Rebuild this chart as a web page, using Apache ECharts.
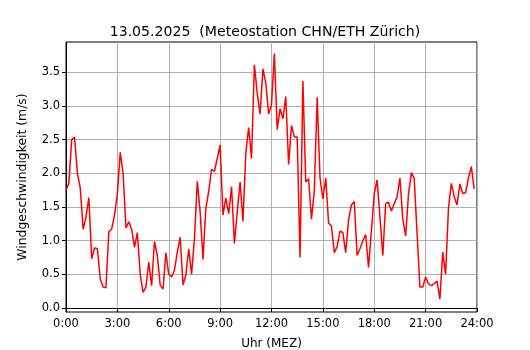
<!DOCTYPE html>
<html>
<head>
<meta charset="utf-8">
<script src="https://cdn.jsdelivr.net/npm/echarts@6/dist/echarts.min.js"></script>
<style>
  html, body { margin: 0; padding: 0; background: #fff; }
  #chart { width: 530px; height: 350px; }
</style>
</head>
<body>
<div id="chart"></div>
<script>
// Windgeschwindigkeit in m/s, 10-Minuten-Werte ab 0:00
var speeds = [
    1.75, 1.85, 2.50, 2.54, 2.00, 1.78, 1.17, 1.35, 1.64, 0.73, 0.89, 0.88,
    0.43, 0.31, 0.30, 1.13, 1.17, 1.38, 1.69, 2.31, 2.00, 1.19, 1.28, 1.17,
    0.90, 1.12, 0.50, 0.23, 0.31, 0.68, 0.33, 0.99, 0.78, 0.34, 0.28, 0.82,
    0.50, 0.46, 0.56, 0.83, 1.05, 0.34, 0.49, 0.88, 0.50, 1.03, 1.88, 1.43,
    0.72, 1.48, 1.73, 2.06, 2.03, 2.22, 2.42, 1.38, 1.63, 1.40, 1.80, 0.96,
    1.43, 1.87, 1.29, 2.30, 2.68, 2.22, 3.61, 3.19, 2.88, 3.55, 3.34, 2.88,
    3.02, 3.78, 2.65, 2.96, 2.81, 3.14, 2.13, 2.71, 2.54, 2.54, 0.75, 3.37,
    1.87, 1.92, 1.32, 1.74, 3.13, 1.93, 1.62, 1.93, 1.26, 1.22, 0.82, 0.91,
    1.14, 1.12, 0.82, 1.31, 1.53, 1.58, 0.78, 0.88, 1.00, 1.09, 0.60, 1.14,
    1.70, 1.90, 1.35, 0.78, 1.55, 1.57, 1.44, 1.55, 1.65, 1.93, 1.32, 1.07,
    1.69, 2.01, 1.92, 1.11, 0.31, 0.31, 0.46, 0.36, 0.33, 0.36, 0.40, 0.13,
    0.83, 0.50, 1.48, 1.85, 1.65, 1.53, 1.84, 1.70, 1.71, 1.93, 2.10, 1.77
];
var stepMinutes = 10;
var yTicks = [0, 0.5, 1.0, 1.5, 2.0, 2.5, 3.0, 3.5];

var points = speeds.map(function (v, i) { return [i * stepMinutes, v]; });

var font = 'DejaVu Sans';
var chart = echarts.init(document.getElementById('chart'), null, { renderer: 'canvas' });
chart.setOption({
    backgroundColor: '#fff',
    animation: false,
    title: {
        text: '13.05.2025  (Meteostation CHN/ETH Zürich)',
        left: 'center',
        top: 20,
        textStyle: { fontFamily: font, fontSize: 14.1, fontWeight: 'normal', color: '#000' }
    },
    grid: {
        left: 66, right: 53, top: 42, bottom: 38,
        outerBoundsMode: 'none',
        show: true, borderColor: '#000', borderWidth: 1, backgroundColor: 'transparent'
    },
    xAxis: {
        type: 'value',
        min: 0, max: 1440, interval: 180,
        name: 'Uhr (MEZ)',
        nameLocation: 'middle',
        nameGap: 26,
        nameTextStyle: { fontFamily: font, fontSize: 12, color: '#000' },
        axisLine: { show: true, lineStyle: { color: '#000', width: 1 } },
        axisTick: { show: true, inside: false, length: 4, lineStyle: { color: '#000' } },
        axisLabel: {
            fontFamily: font, fontSize: 11.5, color: '#000', margin: 6,
            formatter: function (v) { return (v / 60) + ':00'; }
        },
        splitLine: { show: true, lineStyle: { color: '#b0b0b0', width: 1 } }
    },
    yAxis: {
        type: 'value',
        min: -0.06, max: 3.95,
        name: 'Windgeschwindigkeit (m/s)',
        nameLocation: 'middle',
        nameGap: 37,
        nameTextStyle: { fontFamily: font, fontSize: 12.4, color: '#000' },
        axisLine: { show: true, lineStyle: { color: '#000', width: 1 } },
        axisTick: { show: true, length: 4, lineStyle: { color: '#000' }, customValues: yTicks },
        axisLabel: {
            fontFamily: font, fontSize: 11.5, color: '#000', margin: 6,
            customValues: yTicks,
            formatter: function (v) { return v.toFixed(1); }
        },
        splitLine: { show: true, lineStyle: { color: '#b0b0b0', width: 1 } }
    },
    series: [{
        type: 'line',
        data: points,
        showSymbol: false,
        lineStyle: { color: '#ff0000', width: 1.5 },
        z: 3
    }]
});
</script>
</body>
</html>
